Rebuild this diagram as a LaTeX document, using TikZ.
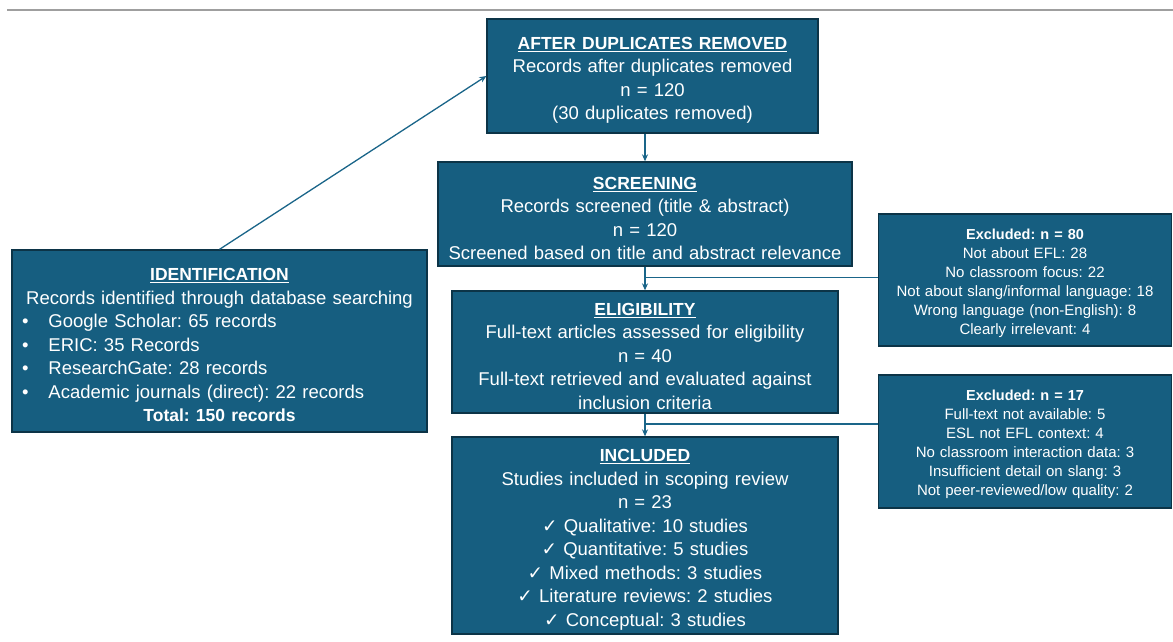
\documentclass[tikz,border=0pt]{standalone}
\usepackage{fontspec}
\setmainfont{Liberation Sans}
\newfontfamily\symf{DejaVu Sans}
\usetikzlibrary{arrows.meta,calc}
\frenchspacing
\definecolor{boxfill}{HTML}{165E80}
\definecolor{boxline}{HTML}{0C3447}
\definecolor{conn}{HTML}{1A6589}
\tikzset{
  stagebox/.style={draw=boxline, line width=1.3pt, fill=boxfill, text=white, inner sep=0pt, align=center,
    font=\fontsize{18.5}{23.5}\selectfont},
  exbox/.style={draw=boxline, line width=1.3pt, fill=boxfill, text=white, inner sep=0pt, align=center,
    font=\fontsize{15}{19}\selectfont},
  conline/.style={draw=conn, line width=1.3pt},
  conarrow/.style={conline, -{Stealth[length=7pt,width=6pt]}},
}
\newcommand{\ttl}[1]{\rule{0pt}{21pt}{\fontsize{17.5}{23.5}\selectfont\textbf{\underline{#1}}}}
\newcommand{\bld}[1]{{\fontsize{17.5}{23.5}\selectfont\textbf{#1}}}
\newcommand{\exbld}[1]{\rule{0pt}{17pt}{\fontsize{14.5}{19}\selectfont\textbf{#1}}}
\newcommand{\chk}{{\symf ✓}}
\begin{document}
\begin{tikzpicture}[x=1pt,y=-1pt]
\useasboundingbox (0,0) rectangle (1173,642);
\draw[gray!75, line width=1.2pt] (7,10) -- (1173,10);

\node[stagebox, minimum width=331, minimum height=114, text width=331] (dup) at (652.5,76)
  {\ttl{AFTER DUPLICATES REMOVED}\\Records after duplicates removed\\n = 120\\(30 duplicates removed)};

\node[stagebox, minimum width=414, minimum height=104, text width=414] (screen) at (645,214)
  {\ttl{SCREENING}\\Records screened (title \& abstract)\\n = 120\\Screened based on title and abstract relevance};

\node[stagebox, minimum width=386, minimum height=122, text width=386] (elig) at (645,352)
  {\ttl{ELIGIBILITY}\\Full-text articles assessed for eligibility\\n = 40\\Full-text retrieved and evaluated against\\inclusion criteria};

\node[stagebox, minimum width=386, minimum height=197, text width=386] (incl) at (645,535.5)
  {\ttl{INCLUDED}\\Studies included in scoping review\\n = 23\\
   \chk\ Qualitative: 10 studies\\
   \chk\ Quantitative: 5 studies\\
   \chk\ Mixed methods: 3 studies\\
   \chk\ Literature reviews: 2 studies\\
   \chk\ Conceptual: 3 studies};

\node[stagebox, minimum width=415, minimum height=182, text width=415, align=left] (ident) at (219.5,341)
  {\makebox[415pt][c]{\ttl{IDENTIFICATION}}\\
   \makebox[415pt][c]{Records identified through database searching}\\
   \hspace*{10pt}\textbullet\hspace*{20pt}Google Scholar: 65 records\\
   \hspace*{10pt}\textbullet\hspace*{20pt}ERIC: 35 Records\\
   \hspace*{10pt}\textbullet\hspace*{20pt}ResearchGate: 28 records\\
   \hspace*{10pt}\textbullet\hspace*{20pt}Academic journals (direct): 22 records\\
   \makebox[415pt][c]{\bld{Total: 150 records}}};

\node[exbox, minimum width=293, minimum height=132, text width=293] (ex1) at (1025,280)
  {\exbld{Excluded: n = 80}\\Not about EFL: 28\\No classroom focus: 22\\Not about slang/informal language: 18\\Wrong language (non-English): 8\\Clearly irrelevant: 4};

\node[exbox, minimum width=293, minimum height=133, text width=293] (ex2) at (1025,441.5)
  {\exbld{Excluded: n = 17}\\Full-text not available: 5\\ESL not EFL context: 4\\No classroom interaction data: 3\\Insufficient detail on slang: 3\\Not peer-reviewed/low quality: 2};

% connectors
\draw[conarrow] (ident.north) -- (dup.west);
\draw[conarrow] (screen.north |- dup.south) -- (screen.north);
\draw[conarrow] (screen.south) -- (elig.north);
\coordinate (b1) at ($(screen.south)!0.46!(elig.north)$);
\draw[conline] (b1) -- (b1 -| ex1.west);
\coordinate (b2) at ($(elig.south)!0.45!(incl.north)$);
\draw[conline] (b2) -- (b2 -| ex2.west);
\draw[conarrow] (elig.south) -- (incl.north);
\end{tikzpicture}
\end{document}
